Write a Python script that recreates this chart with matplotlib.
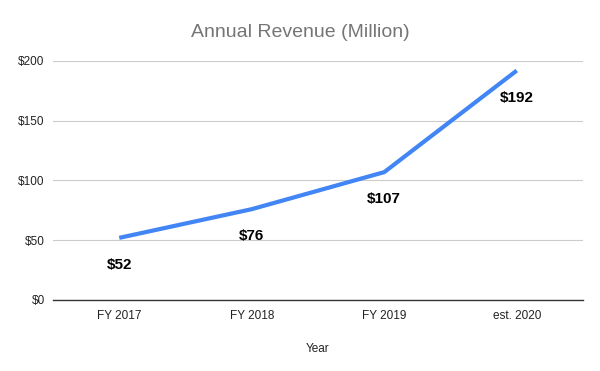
import matplotlib.pyplot as plt

plt.rcParams['font.family'] = ['Liberation Sans', 'DejaVu Sans']

years = ['FY 2017', 'FY 2018', 'FY 2019', 'est. 2020']
revenue = [52, 76, 107, 192]
yticks = [0, 50, 100, 150, 200]

fig = plt.figure(figsize=(6, 3.71), dpi=100)
ax = fig.add_axes([0.0883, 0.1914, 0.8834, 0.6442])

x = list(range(len(years)))
ax.plot(x, revenue, color='#4285f4', linewidth=3, solid_capstyle='butt', zorder=3)

for xi, v in zip(x, revenue):
    ax.annotate('$%d' % v, (xi, v), xytext=(0, -19.5), textcoords='offset points',
                ha='center', va='center', fontsize=11, fontweight='bold', color='#000000')

ax.set_xlim(-0.5, len(years) - 0.5)
ax.set_ylim(0, 200)
ax.set_xticks(x)
ax.set_xticklabels(years)
ax.set_yticks(yticks)
ax.set_yticklabels(['$%d' % t for t in yticks])
ax.tick_params(axis='both', length=0, labelsize=8.5, colors='#222222')
ax.tick_params(axis='x', pad=7)
ax.tick_params(axis='y', pad=6)

ax.grid(axis='y', color='#cccccc', linewidth=0.8)
ax.set_axisbelow(True)
for s in ['top', 'right', 'left']:
    ax.spines[s].set_visible(False)
ax.spines['bottom'].set_color('#333333')
ax.spines['bottom'].set_linewidth(1)
ax.spines['bottom'].set_zorder(2)

ax.set_xlabel('Year', fontsize=8.5, color='#222222', labelpad=15)
fig.suptitle('Annual Revenue (Million)', fontsize=14, color='#757575', y=0.935)

fig.savefig('out.png', dpi=100, facecolor='white')
